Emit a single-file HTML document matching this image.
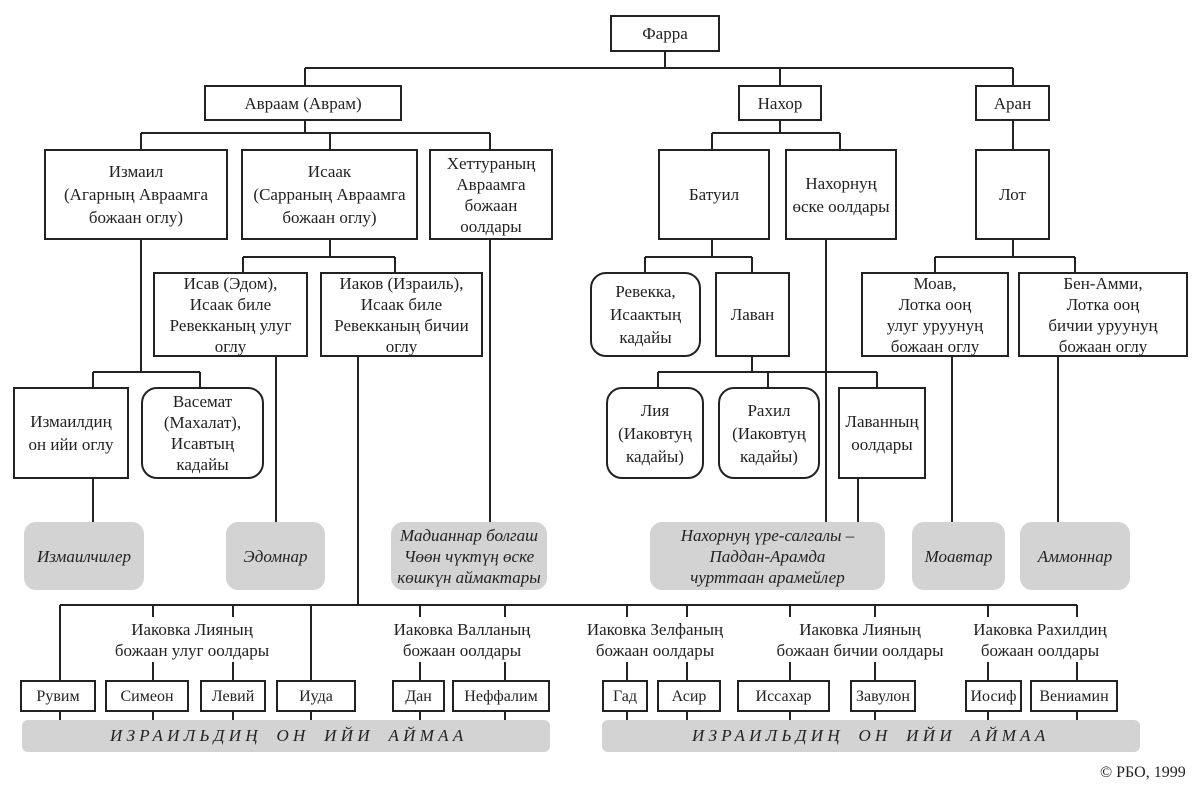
<!DOCTYPE html>
<html><head><meta charset="utf-8"><style>
body{margin:0;background:#fff;width:1200px;height:796px;position:relative;overflow:hidden;font-family:"Liberation Serif",serif;color:#222}
.b{position:absolute;box-sizing:border-box;border:2px solid #222;background:#fff;display:flex;align-items:center;justify-content:center;text-align:center;font-size:17px;line-height:23px}
.f{line-height:21px}
.r{border-radius:16px}
.g{position:absolute;box-sizing:border-box;background:#d3d3d3;border-radius:12px;display:flex;align-items:center;justify-content:center;text-align:center;font-size:17px;line-height:21px;font-style:italic}
.t{position:absolute;text-align:center;font-size:17px;line-height:21px;background:#fff}
svg{position:absolute;left:0;top:0}
.band{position:absolute;font-style:italic;font-size:17px;letter-spacing:4.3px;word-spacing:6px;white-space:nowrap}
</style></head><body>
<svg width="1200" height="796" stroke="#222" stroke-width="2" fill="none">
<path d="M665 52V68M305 68H1013M305 68V85M780 68V85M1013 68V85"/>
<path d="M305 120V133M141 133H490M141 133V150M330 133V150M490 133V150"/>
<path d="M780 120V133M712 133H840M712 133V150M840 133V150M1013 120V150"/>
<path d="M330 238V257M243 257H395M243 257V272M395 257V272"/>
<path d="M712 238V257M645 257H752M645 257V272M752 257V272"/>
<path d="M1013 238V257M935 257H1075M935 257V272M1075 257V272"/>
<path d="M141 238V372M93 372H200M93 372V387M200 372V387"/>
<path d="M276 357V522M490 238V522M358 357V605M826 238V522"/>
<path d="M752 355V372M658 372H877M658 372V387M768 372V387M877 372V387M858 478V522"/>
<path d="M952 355V522M1058 355V522M93 479V522"/>
<path d="M60 605H1077M60 605V730M153 605V617M233 605V617M311 605V730M420 605V617M505 605V617M627 605V617M687 605V617M790 605V617M875 605V617M988 605V617M1077 605V617"/>
<path d="M153 662V730M233 662V730M420 662V730M505 662V730M627 662V730M687 662V730M790 662V730M875 662V730M988 662V730M1077 662V730"/>
</svg>
<div class="b" style="left:610px;top:15px;width:110px;height:37px">Фарра</div>
<div class="b" style="left:204px;top:85px;width:198px;height:36px">Авраам (Аврам)</div>
<div class="b" style="left:738px;top:85px;width:84px;height:36px">Нахор</div>
<div class="b" style="left:975px;top:85px;width:75px;height:36px">Аран</div>
<div class="b" style="left:44px;top:149px;width:184px;height:91px">Измаил<br>(Агарның Авраамга<br>божаан оглу)</div>
<div class="b" style="left:241px;top:149px;width:177px;height:91px">Исаак<br>(Сарраның Авраамга<br>божаан оглу)</div>
<div class="b f" style="left:429px;top:149px;width:124px;height:91px">Хеттураның<br>Авраамга<br>божаан<br>оолдары</div>
<div class="b" style="left:658px;top:149px;width:112px;height:91px">Батуил</div>
<div class="b" style="left:785px;top:149px;width:112px;height:91px">Нахорнуң<br>өске оолдары</div>
<div class="b" style="left:975px;top:149px;width:75px;height:91px">Лот</div>
<div class="b f" style="left:153px;top:272px;width:155px;height:85px">Исав (Эдом),<br>Исаак биле<br>Ревекканың улуг<br>оглу</div>
<div class="b f" style="left:320px;top:272px;width:163px;height:85px">Иаков (Израиль),<br>Исаак биле<br>Ревекканың бичии<br>оглу</div>
<div class="b r" style="left:590px;top:272px;width:111px;height:85px">Ревекка,<br>Исаактың<br>кадайы</div>
<div class="b" style="left:715px;top:272px;width:75px;height:85px">Лаван</div>
<div class="b f" style="left:861px;top:272px;width:148px;height:85px">Моав,<br>Лотка ооң<br>улуг уруунуң<br>божаан оглу</div>
<div class="b f" style="left:1018px;top:272px;width:170px;height:85px">Бен-Амми,<br>Лотка ооң<br>бичии уруунуң<br>божаан оглу</div>
<div class="b" style="left:13px;top:387px;width:116px;height:92px">Измаилдиң<br>он ийи оглу</div>
<div class="b r f" style="left:141px;top:387px;width:123px;height:92px">Васемат<br>(Махалат),<br>Исавтың<br>кадайы</div>
<div class="b r" style="left:606px;top:387px;width:98px;height:92px">Лия<br>(Иаковтуң<br>кадайы)</div>
<div class="b r" style="left:718px;top:387px;width:102px;height:92px">Рахил<br>(Иаковтуң<br>кадайы)</div>
<div class="b" style="left:838px;top:387px;width:88px;height:92px">Лаванның<br>оолдары</div>
<div class="g" style="left:24px;top:522px;width:120px;height:68px">Измаилчилер</div>
<div class="g" style="left:226px;top:522px;width:99px;height:68px">Эдомнар</div>
<div class="g" style="left:391px;top:522px;width:156px;height:68px">Мадианнар болгаш<br>Чөөн чүктүң өске<br>көшкүн аймактары</div>
<div class="g" style="left:650px;top:522px;width:235px;height:68px">Нахорнуң үре-салгалы –<br>Паддан-Арамда<br>чурттаан арамейлер</div>
<div class="g" style="left:912px;top:522px;width:93px;height:68px">Моавтар</div>
<div class="g" style="left:1020px;top:522px;width:110px;height:68px">Аммоннар</div>
<div class="t" style="left:92px;top:619px;width:200px">Иаковка Лияның<br>божаан улуг оолдары</div>
<div class="t" style="left:372px;top:619px;width:180px">Иаковка Валланың<br>божаан оолдары</div>
<div class="t" style="left:570px;top:619px;width:170px">Иаковка Зелфаның<br>божаан оолдары</div>
<div class="t" style="left:755px;top:619px;width:210px">Иаковка Лияның<br>божаан бичии оолдары</div>
<div class="t" style="left:960px;top:619px;width:160px">Иаковка Рахилдиң<br>божаан оолдары</div>
<div class="g" style="left:22px;top:720px;width:528px;height:32px;border-radius:6px"></div>
<div class="g" style="left:602px;top:720px;width:538px;height:32px;border-radius:6px"></div>
<div class="b" style="left:20px;top:680px;width:76px;height:32px;font-size:16px">Рувим</div>
<div class="b" style="left:105px;top:680px;width:84px;height:32px;font-size:16px">Симеон</div>
<div class="b" style="left:200px;top:680px;width:66px;height:32px;font-size:16px">Левий</div>
<div class="b" style="left:276px;top:680px;width:80px;height:32px;font-size:16px">Иуда</div>
<div class="b" style="left:392px;top:680px;width:53px;height:32px;font-size:16px">Дан</div>
<div class="b" style="left:452px;top:680px;width:98px;height:32px;font-size:16px">Неффалим</div>
<div class="b" style="left:602px;top:680px;width:46px;height:32px;font-size:16px">Гад</div>
<div class="b" style="left:657px;top:680px;width:64px;height:32px;font-size:16px">Асир</div>
<div class="b" style="left:737px;top:680px;width:93px;height:32px;font-size:16px">Иссахар</div>
<div class="b" style="left:850px;top:680px;width:66px;height:32px;font-size:16px">Завулон</div>
<div class="b" style="left:965px;top:680px;width:57px;height:32px;font-size:16px">Иосиф</div>
<div class="b" style="left:1030px;top:680px;width:88px;height:32px;font-size:16px">Вениамин</div>
<div class="band" style="left:110px;top:726px">ИЗРАИЛЬДИҢ ОН ИЙИ АЙМАА</div>
<div class="band" style="left:692px;top:726px">ИЗРАИЛЬДИҢ ОН ИЙИ АЙМАА</div>
<div style="position:absolute;left:1100px;top:764px;font-size:16px">© РБО, 1999</div>
</body></html>
